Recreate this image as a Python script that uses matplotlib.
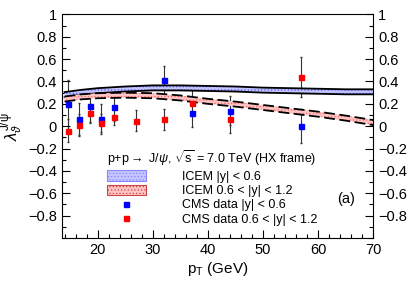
# lambda_theta of J/psi vs pT, ICEM bands with CMS data points
import numpy as np
import matplotlib
matplotlib.use("Agg")
import matplotlib.pyplot as plt
from matplotlib.patches import Patch
from matplotlib.lines import Line2D
from matplotlib.ticker import MultipleLocator, FixedLocator

plt.rcParams['font.family'] = ['Liberation Sans', 'DejaVu Sans']
plt.rcParams['mathtext.fontset'] = 'custom'
plt.rcParams['mathtext.rm'] = 'Liberation Sans'
plt.rcParams['mathtext.it'] = 'Liberation Sans:italic'
plt.rcParams['hatch.linewidth'] = 0.5

# ICEM model bands (lower / upper edges)
pt_model = [14, 17, 20, 25, 30, 35, 40, 45, 50, 55, 60, 65, 70]
icem_c_lo = [0.26, 0.28, 0.295, 0.31, 0.32, 0.32, 0.315, 0.31, 0.30, 0.295, 0.29, 0.285, 0.285]
icem_c_hi = [0.305, 0.325, 0.34, 0.355, 0.365, 0.365, 0.36, 0.355, 0.345, 0.34, 0.335, 0.33, 0.33]
icem_f_lo = [0.22, 0.24, 0.25, 0.255, 0.25, 0.23, 0.20, 0.175, 0.145, 0.115, 0.085, 0.05, 0.01]
icem_f_hi = [0.265, 0.285, 0.295, 0.30, 0.295, 0.275, 0.245, 0.22, 0.19, 0.16, 0.13, 0.095, 0.055]

# CMS data |y| < 0.6
pt_c = [14.6, 16.6, 18.6, 20.6, 23.0, 32.1, 37.2, 44.0, 57.0]
lam_c = [0.195, 0.065, 0.18, 0.065, 0.17, 0.41, 0.12, 0.14, 0.003]
err_c = [0.22, 0.14, 0.15, 0.135, 0.12, 0.13, 0.13, 0.13, 0.15]

# CMS data 0.6 < |y| < 1.2
pt_f = [14.6, 16.6, 18.6, 20.6, 23.0, 27.0, 32.1, 37.2, 44.0, 57.0]
lam_f = [-0.04, 0.01, 0.12, 0.03, 0.08, 0.05, 0.06, 0.21, 0.065, 0.44]
err_f = [0.10, 0.10, 0.08, 0.08, 0.07, 0.095, 0.09, 0.12, 0.13, 0.18]

fig = plt.figure(figsize=(4.15, 2.82), dpi=100)
ax = fig.add_axes([0.149, 0.156, 0.75, 0.793])

# error bars first, bands on top, markers last
ax.errorbar(pt_c, lam_c, yerr=err_c, fmt='none', ecolor='#333333', elinewidth=0.8, capsize=1, zorder=1)
ax.errorbar(pt_f, lam_f, yerr=err_f, fmt='none', ecolor='#333333', elinewidth=0.8, capsize=1, zorder=1)

ax.fill_between(pt_model, icem_c_lo, icem_c_hi, facecolor='#c4c4ff', edgecolor='#5555ff',
                hatch='.....', linewidth=0, zorder=2)
ax.plot(pt_model, icem_c_lo, color='black', lw=1.3, zorder=2)
ax.plot(pt_model, icem_c_hi, color='black', lw=1.3, zorder=2)

ax.fill_between(pt_model, icem_f_lo, icem_f_hi, facecolor='#ffc4c4', edgecolor='#ff6666',
                hatch='.....', linewidth=0, zorder=2)
ax.plot(pt_model, icem_f_lo, color='black', lw=1.3, ls=(0, (6, 2.5)), zorder=2)
ax.plot(pt_model, icem_f_hi, color='black', lw=1.3, ls=(0, (6, 2.5)), zorder=2)

ax.plot(pt_c, lam_c, 's', color='#0000ff', ms=3.6, zorder=3)
ax.plot(pt_f, lam_f, 's', color='#ff0000', ms=3.6, zorder=3)

ax.set_xlim(13.5, 70)
ax.set_ylim(-1, 1)
ax.xaxis.set_major_locator(MultipleLocator(10))
ax.xaxis.set_minor_locator(MultipleLocator(2))
ax.yaxis.set_major_locator(FixedLocator([-0.8, -0.6, -0.4, -0.2, 0, 0.2, 0.4, 0.6, 0.8, 1.0]))
ax.yaxis.set_minor_locator(MultipleLocator(0.1))
ax.yaxis.set_major_formatter(plt.FuncFormatter(lambda v, p: ('%g' % v).replace('-', '\u2212')))
ax.tick_params(which='both', direction='in', labelsize=10.5, width=0.8)
ax.tick_params(axis='y', which='both', left=True, right=True, labelleft=True, labelright=True)
ax.tick_params(axis='x', which='both', top=False)
ax.tick_params(which='major', length=6)
ax.tick_params(which='minor', length=3)
for s in ax.spines.values():
    s.set_linewidth(0.8)

ax.set_xlabel(r'p$_{\rm T}$ (GeV)', fontsize=11, labelpad=2)
ax.set_ylabel(r'$\lambda_{\vartheta}^{\rm J/\psi}$', fontsize=12, labelpad=2)

handles = [
    Patch(facecolor='#c4c4ff', edgecolor='#8888ff', hatch='.....', lw=0.8),
    Patch(facecolor='#ffc4c4', edgecolor='#cc4444', hatch='.....', lw=0.8),
    Line2D([], [], ls='none', marker='s', color='#0000ff', ms=3.6),
    Line2D([], [], ls='none', marker='s', color='#ff0000', ms=3.6),
]
labels = ['ICEM |y| < 0.6', 'ICEM 0.6 < |y| < 1.2', 'CMS data |y| < 0.6', 'CMS data 0.6 < |y| < 1.2']
leg = ax.legend(handles, labels, loc='upper left', bbox_to_anchor=(0.145, 0.40),
                title=r'p+p$\rightarrow$ J/$\psi$, $\sqrt{\rm s}$ = 7.0 TeV (HX frame)',
                title_fontsize=9, fontsize=9, frameon=False, borderpad=0, borderaxespad=0,
                handlelength=3.1, handleheight=0.9, handletextpad=2.9, labelspacing=0.15,
                alignment='left')

ax.text(0.885, 0.155, '(a)', transform=ax.transAxes, fontsize=10.5)

fig.savefig('out.png', dpi=100)
